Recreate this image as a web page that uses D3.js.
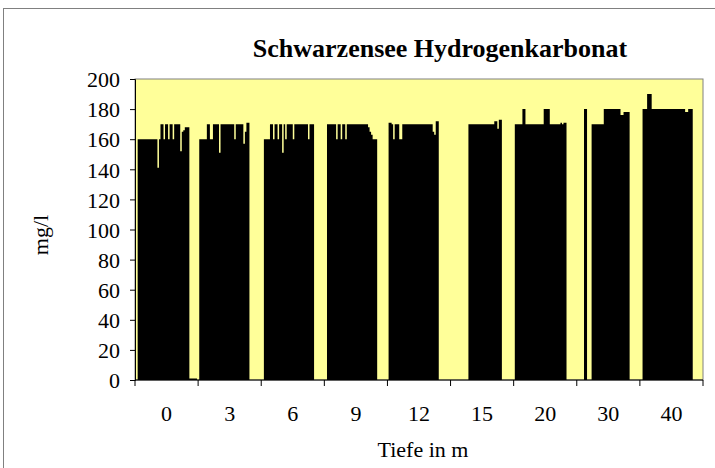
<!DOCTYPE html>
<html>
<head>
<meta charset="utf-8">
<script src="https://cdn.jsdelivr.net/npm/d3@7"></script>
<style>
  body { margin: 0; background: #fff; }
  text { font-family: "Liberation Serif", "Times New Roman", serif; fill: #000; }
</style>
</head>
<body>
<div id="chart"></div>
<script>
// depths (categories) and the y ticks
var depths = ["0", "3", "6", "9", "12", "15", "20", "30", "40"];
var yTicks = [0, 20, 40, 60, 80, 100, 120, 140, 160, 180, 200];

var v0  = [0,160,160,160,160,160,160,160,160,160,160,160,160,160,141,160,170,170,160,170,170,160,170,170,160,170,170,170,170,152,165,166,168,168,168,1,1,1,1,1];
var v3  = [160,160,160,160,160,170,170,160,160,170,170,170,170,151,170,170,170,170,170,170,170,170,170,160,170,170,170,170,170,157,165,171,171,0,0,0,0,0,0,0];
var v6  = [0,160,160,160,160,170,170,160,170,170,160,170,170,151,170,160,170,170,170,170,160,170,170,170,170,170,170,170,170,170,160,170,170,170,0,0,0,0,0,0];
var v9  = [0,170,170,170,170,170,170,160,170,170,160,170,170,160,170,170,170,170,170,170,170,170,170,170,170,170,170,170,168,165,163,160,160,160,0,0,0,0,0,0];
var v12 = [171,171,170,160,170,170,170,160,160,170,170,170,170,170,170,170,170,170,170,170,170,170,170,170,170,170,170,170,170,165,163,172,172,0,0,0,0,0,0,0];
var v15 = [0,0,0,0,0,0,0,0,0,0,0,170,170,170,170,170,170,170,170,170,170,170,170,170,170,170,170,170,172,172,167,173,173,0,0,0,0,0,0,0];
var v20 = [170,170,170,170,170,180,180,170,170,170,170,170,170,170,170,170,170,170,170,180,180,180,180,170,170,170,170,170,170,170,171,170,171,171,0,0,0,0,0,0];
var v30 = [0,0,0,0,180,180,0,0,0,170,170,170,170,170,170,170,170,180,180,180,180,180,180,180,180,180,180,180,176,176,178,178,178,178,0,0,0,0,0,0];
var v40 = [0,180,180,180,190,190,190,180,180,180,180,180,180,180,180,180,180,180,180,180,180,180,180,180,180,180,180,180,180,178,178,180,180,180,0,0,0,0,0,0];

var values = [v0, v3, v6, v9, v12, v15, v20, v30, v40];

var width = 715, height = 468;
var plot = { left: 135, top: 79, right: 703, bottom: 380 };

var svg = d3.select("#chart")
  .append("svg")
  .attr("width", width)
  .attr("height", height);

// outer chart frame
svg.append("rect")
  .attr("x", 3.5).attr("y", 8.5)
  .attr("width", 730).attr("height", 480)
  .attr("fill", "#fff")
  .attr("stroke", "#808080");

// plot area
svg.append("rect")
  .attr("x", plot.left).attr("y", plot.top)
  .attr("width", plot.right - plot.left).attr("height", plot.bottom - plot.top)
  .attr("fill", "#ffff99")
  .attr("stroke", "#808080");

var x = d3.scaleBand()
  .domain(depths)
  .range([plot.left, plot.right])
  .padding(0);

// excel style gap width 150% -> 0.75 step of space on each side
var xs = d3.scaleBand()
  .domain(d3.range(v0.length))
  .range([0, x.bandwidth()])
  .paddingInner(0)
  .paddingOuter(0.75);

var y = d3.scaleLinear()
  .domain([0, 200])
  .range([plot.bottom, plot.top]);

// bars: the touching bars of one depth are drawn as one stepped shape, so no seams
var bars = d3.area()
  .curve(d3.curveStepAfter)
  .x(function(d) { return d.x; })
  .y0(y(0))
  .y1(function(d) { return y(d.v); });

svg.selectAll(".grp")
  .data(depths)
  .join("path")
  .attr("class", "grp")
  .attr("transform", function(d) { return "translate(" + x(d) + ",0)"; })
  .attr("d", function(d, i) {
    var pts = values[i].map(function(v, j) { return { x: xs(j), v: v }; });
    var last = values[i].length - 1;
    pts.push({ x: xs(last) + xs.bandwidth(), v: values[i][last] });
    return bars(pts);
  })
  .attr("fill", "#000");

// y axis
var yAxis = svg.append("g")
  .attr("transform", "translate(" + plot.left + ",0)")
  .call(d3.axisLeft(y).tickValues(yTicks).tickSize(5).tickPadding(10));
yAxis.selectAll("text").style("font-size", "22px").attr("dy", "0.35em");
yAxis.select(".domain").attr("stroke", "#000");

// x axis (ticks between categories)
var xAxis = svg.append("g")
  .attr("transform", "translate(0," + plot.bottom + ")");
xAxis.append("line")
  .attr("x1", plot.left).attr("x2", plot.right)
  .attr("stroke", "#000");
xAxis.selectAll(".tk")
  .data(depths.concat(["end"]))
  .join("line")
  .attr("class", "tk")
  .attr("x1", function(d, i) { return plot.left + i * x.step(); })
  .attr("x2", function(d, i) { return plot.left + i * x.step(); })
  .attr("y1", 0).attr("y2", 6)
  .attr("stroke", "#000");
xAxis.selectAll(".lb")
  .data(depths)
  .join("text")
  .attr("class", "lb")
  .attr("x", function(d) { return x(d) + x.bandwidth() / 2; })
  .attr("y", 41)
  .attr("text-anchor", "middle")
  .style("font-size", "22px")
  .text(function(d) { return d; });

// titles
svg.append("text")
  .attr("x", 440).attr("y", 57)
  .attr("text-anchor", "middle")
  .style("font-size", "26px")
  .style("font-weight", "bold")
  .text("Schwarzensee Hydrogenkarbonat");

svg.append("text")
  .attr("x", 423).attr("y", 457)
  .attr("text-anchor", "middle")
  .style("font-size", "22px")
  .text("Tiefe in m");

svg.append("text")
  .attr("transform", "translate(48,235) rotate(-90)")
  .attr("text-anchor", "middle")
  .style("font-size", "22px")
  .text("mg/l");
</script>
</body>
</html>
